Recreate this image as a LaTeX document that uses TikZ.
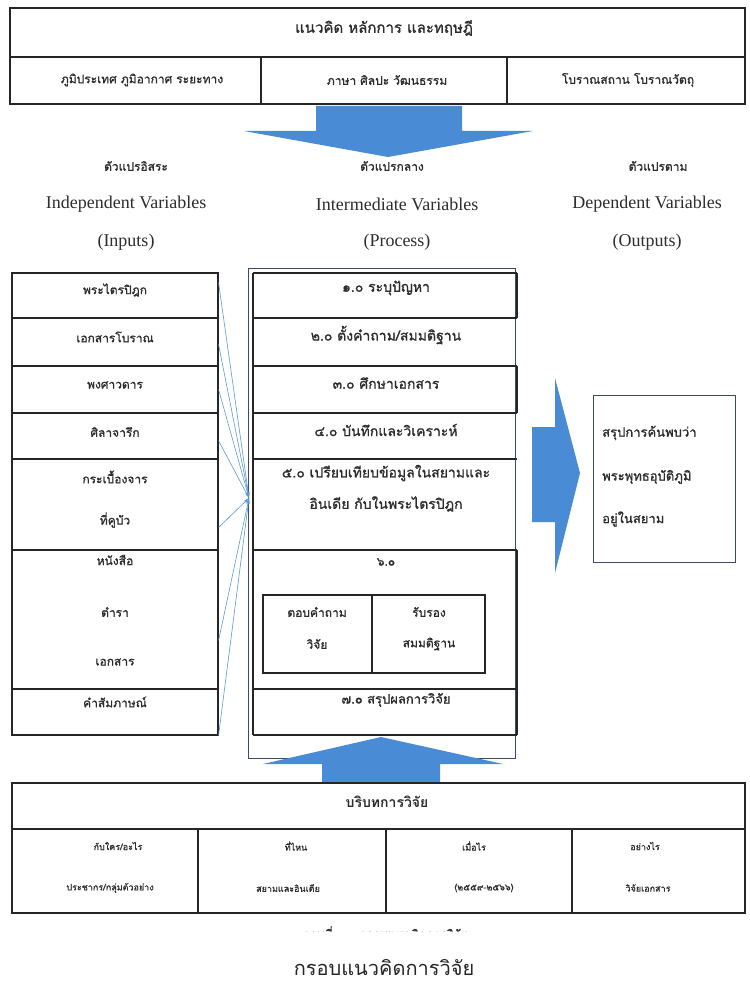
\documentclass[tikz,border=0pt]{standalone}
\usepackage{fontspec}
\setmainfont{Liberation Serif}
\newfontfamily\thai[Script=Thai]{Loma}
\newfontfamily\thaib[Script=Thai,FakeBold=1]{Loma}
\usetikzlibrary{arrows.meta,calc}
\definecolor{arrowblue}{RGB}{74,139,214}
\definecolor{linkblue}{RGB}{91,155,213}
\definecolor{slate}{RGB}{60,75,100}
\definecolor{ink}{RGB}{45,45,45}
\tikzset{
  frame/.style={draw=black!85, line width=1.1pt},
  thinframe/.style={draw=slate, line width=0.6pt},
  rowbox/.style={frame, minimum width=206pt, inner sep=0pt},
  th/.style={font=\thaib\fontsize{12}{14}\selectfont, inner sep=0pt, text=ink},
  thmid/.style={font=\thaib\fontsize{14}{16}\selectfont, inner sep=0pt, text=ink},
  thsmall/.style={font=\thaib\fontsize{9}{11}\selectfont, inner sep=0pt, text=ink},
  thhead/.style={font=\thaib\fontsize{12}{14}\selectfont, inner sep=0pt, text=ink},
  en/.style={font=\fontsize{18}{20}\selectfont, inner sep=0pt, text=ink},
  link/.style={draw=linkblue, line width=0.6pt, -{Stealth[length=6pt,width=3pt]}},
  bigarrow/.style={fill=arrowblue, draw=none}
}
\begin{document}
\begin{tikzpicture}[x=1pt,y=-1pt]
\useasboundingbox (0,0) rectangle (749,984);
\fill[white] (0,0) rectangle (749,984);

% ---------- top box ----------
\draw[frame] (10,8) rectangle (745,104);
\draw[frame] (10,57) -- (745,57);
\draw[frame] (261,57) -- (261,104);
\draw[frame] (507,57) -- (507,104);
\node[thmid, font=\thaib\fontsize{15}{17}\selectfont] (t0) at (384,28) {แนวคิด หลักการ และทฤษฎี};
\node[th] (t1) at (142,80) {ภูมิประเทศ ภูมิอากาศ ระยะทาง};
\node[th] (t2) at (387,80) {ภาษา ศิลปะ วัฒนธรรม};
\node[th] (t3) at (628,80) {โบราณสถาน โบราณวัตถุ};

% ---------- down arrow ----------
\fill[bigarrow] (316,106) -- (462,106) -- (462,131) -- (533,131) -- (388,157)
  -- (244,131) -- (316,131) -- cycle;

% ---------- headers ----------
\node[thhead] (h1) at (136,166) {ตัวแปรอิสระ};
\node[en] (h1e) at (126,204) {Independent Variables};
\node[en] (h1p) at (126,242) {(Inputs)};
\node[thhead] (h2) at (392,166) {ตัวแปรกลาง};
\node[en] (h2e) at (397,204) {Intermediate Variables};
\node[en] (h2p) at (397,242) {(Process)};
\node[thhead] (h3) at (658,166) {ตัวแปรตาม};
\node[en] (h3e) at (647,204) {Dependent Variables};
\node[en] (h3p) at (647,242) {(Outputs)};

% ---------- left column ----------
\node[rowbox, minimum height=45pt]  (L1) at (115,295.5) {};
\node[rowbox, minimum height=48pt]  (L2) at (115,342) {};
\node[rowbox, minimum height=47pt]  (L3) at (115,389.5) {};
\node[rowbox, minimum height=46pt]  (L4) at (115,436) {};
\node[rowbox, minimum height=91pt]  (L5) at (115,504.5) {};
\node[rowbox, minimum height=139pt] (L6) at (115,619.5) {};
\node[rowbox, minimum height=46pt]  (L7) at (115,712) {};
\node[th] (l1) at (115,290) {พระไตรปิฎก};
\node[th] (l2) at (115,337) {เอกสารโบราณ};
\node[th] (l3) at (115,385) {พงศาวดาร};
\node[th] (l4) at (115,432) {ศิลาจารึก};
\node[th] (l5a) at (115,477) {กระเบื้องจาร};
\node[th] (l5b) at (115,520) {ที่คูบัว};
\node[th] (l6a) at (115,560) {หนังสือ};
\node[th] (l6b) at (115,612) {ตำรา};
\node[th] (l6c) at (115,662) {เอกสาร};
\node[th] (l7) at (115,702) {คำสัมภาษณ์};

% ---------- middle column ----------
\draw[thinframe] (248,268) rectangle (515,758);
\draw[frame] (253,273) -- (253,735);
\foreach \yy in {273,318,366,413,459,550,689,735} {
  \draw[frame] (253,\yy) -- (517,\yy);
}
\draw[frame] (517,273) -- (517,318);
\draw[frame] (517,366) -- (517,413);
\draw[frame] (517,550) -- (517,735);
\coordinate (conv) at (249,498);
\node[thmid] (m1) at (386,288) {๑.๐ ระบุปัญหา};
\node[thmid] (m2) at (386,335) {๒.๐ ตั้งคำถาม/สมมติฐาน};
\node[thmid] (m3) at (386,383) {๓.๐ ศึกษาเอกสาร};
\node[thmid] (m4) at (386,430) {๔.๐ บันทึกและวิเคราะห์};
\node[thmid] (m5a) at (386,473) {๕.๐ เปรียบเทียบข้อมูลในสยามและ};
\node[thmid] (m5b) at (386,504) {อินเดีย กับในพระไตรปิฎก};
\node[th] (m6) at (386,562) {๖.๐};
\draw[frame] (263,595) rectangle (485,673);
\draw[frame] (372,595) -- (372,673);
\node[th] (m6a) at (317,612) {ตอบคำถาม};
\node[th] (m6b) at (317,644) {วิจัย};
\node[th] (m6c) at (429,612) {รับรอง};
\node[th] (m6d) at (429,644) {สมมติฐาน};
\node[th, font=\thaib\fontsize{13}{15}\selectfont] (m7) at (396,700) {๗.๐ สรุปผลการวิจัย};

% ---------- connectors ----------
\draw[link] ($(L1.north east)!.22!(L1.south east)$) -- (conv);
\draw[link] ($(L2.north east)!.55!(L2.south east)$) -- (conv);
\draw[link] ($(L3.north east)!.5!(L3.south east)$) -- (conv);
\draw[link] ($(L4.north east)!.6!(L4.south east)$) -- (conv);
\draw[link] ($(L5.north east)!.75!(L5.south east)$) -- (conv);
\draw[link] ($(L6.north east)!.65!(L6.south east)$) -- (conv);
\draw[link] (L7.south east) -- (conv);

% ---------- right arrow and output ----------
\fill[bigarrow] (532,427) -- (555,427) -- (555,378) -- (580,473) -- (555,573)
  -- (555,522) -- (532,522) -- cycle;
\node[thinframe, minimum width=142pt, minimum height=167pt, inner sep=0pt] (out) at (664,478.5) {};
\node[thmid, anchor=west, font=\thaib\fontsize{13}{15}\selectfont] (o1) at (602,433) {สรุปการค้นพบว่า};
\node[thmid, anchor=west, font=\thaib\fontsize{13}{15}\selectfont] (o2) at (602,477) {พระพุทธอุบัติภูมิ};
\node[thmid, anchor=west, font=\thaib\fontsize{13}{15}\selectfont] (o3) at (602,519) {อยู่ในสยาม};

% ---------- up arrow ----------
\fill[bigarrow] (322,783) -- (440,783) -- (440,764) -- (503,764) -- (381,737)
  -- (263,764) -- (322,764) -- cycle;

% ---------- bottom box ----------
\draw[frame] (12,783) rectangle (745,913);
\draw[frame] (12,829) -- (745,829);
\draw[frame] (198,829) -- (198,913);
\draw[frame] (386,829) -- (386,913);
\draw[frame] (572,829) -- (572,913);
\node[thmid, font=\thai\bfseries\fontsize{14}{16}\selectfont] (b0) at (387,802) {บริบทการวิจัย};
\node[thsmall] (b1a) at (118,846) {กับใคร/อะไร};
\node[thsmall] (b1b) at (110,888) {ประชากร/กลุ่มตัวอย่าง};
\node[thsmall] (b2a) at (296,846) {ที่ไหน};
\node[thsmall] (b2b) at (288,888) {สยามและอินเดีย};
\node[thsmall] (b3a) at (474,846) {เมื่อไร};
\node[thsmall] (b3b) at (484,888) {(๒๕๕๙-๒๕๖๖)};
\node[thsmall] (b4a) at (645,846) {อย่างไร};
\node[thsmall] (b4b) at (648,888) {วิจัยเอกสาร};

% ---------- cut caption ----------
\begin{scope}
\clip (0,920) rectangle (749,931);
\node[th, anchor=north] (cap) at (385,926) {ภาพที่ ๑.๑ กรอบแนวคิดการวิจัย};
\end{scope}

% ---------- title ----------
\node[font=\thai\fontsize{20}{22}\selectfont, inner sep=0pt, text=black!85] (title) at (384,968) {กรอบแนวคิดการวิจัย};
\end{tikzpicture}
\end{document}
